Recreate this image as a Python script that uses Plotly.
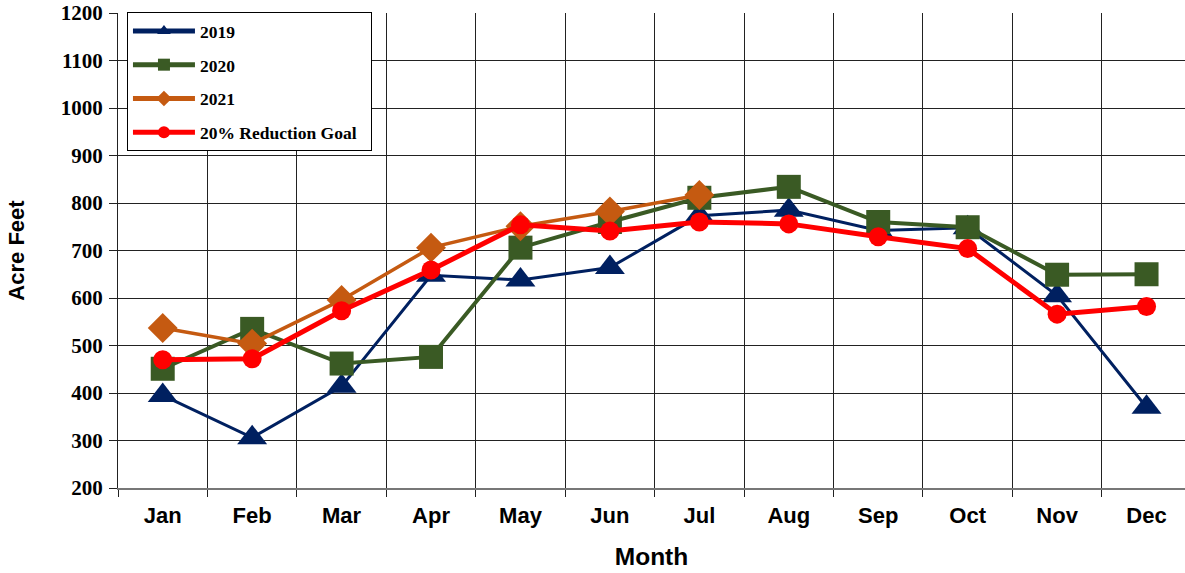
import plotly.graph_objects as go

months = ["Jan", "Feb", "Mar", "Apr", "May", "Jun", "Jul", "Aug", "Sep", "Oct", "Nov", "Dec"]
pos = list(range(1, 13))
y2019 = [395, 306, 414, 648, 638, 664, 773, 785, 742, 748, 605, 370]
y2020 = [451, 535, 462, 476, 706, 760, 811, 834, 760, 749, 649, 650]
y2021 = [537, 504, 596, 706, 751, 782, 817]
goal = [470, 472, 573, 659, 754, 741, 760, 756, 729, 704, 566, 582]
y_ticks = list(range(200, 1201, 100))

fig = go.Figure()
series = [
    ("2019", y2019, "#002060", 3, "triangle-up", 26),
    ("2020", y2020, "#3a5a24", 4, "square", 24),
    ("2021", y2021, "#C55A11", 3.5, "diamond", 23),
    ("20% Reduction Goal\u00a0\u00a0", goal, "#FF0000", 5, "circle", 19),
]
for i, (name, vals, col, lw, sym, ms) in enumerate(series):
    fig.add_trace(go.Scatter(
        x=pos[:len(vals)], y=vals, name=name, mode="lines+markers",
        line=dict(color=col, width=lw),
        marker=dict(symbol=sym, size=ms, color=col, line=dict(width=0)),
        legendgroup=f"g{i}",
    ))

fig.update_layout(
    width=1185, height=573,
    margin=dict(l=118, r=0, t=13, b=85),
    plot_bgcolor="white", paper_bgcolor="white",
    showlegend=True,
    legend=dict(
        x=0.0084, y=1.002, xanchor="left", yanchor="top",
        bgcolor="white", bordercolor="black", borderwidth=1,
        font=dict(family="Liberation Serif", size=17.5, color="black", weight="bold"),
        tracegroupgap=8, itemsizing="constant", itemwidth=62,
    ),
    xaxis=dict(
        range=[0.5, 12.43], tickvals=pos, ticktext=months,
        showgrid=False, ticks="", zeroline=False, automargin=False,
        ticklabelstandoff=7,
        tickfont=dict(family="Arial, Liberation Sans", size=22, color="black", weight="bold"),
        showline=True, linecolor="#777", linewidth=2,
        minor=dict(tickvals=[p + 0.5 for p in range(0, 13)], showgrid=True,
                   gridcolor="#222", gridwidth=1, ticks="outside", ticklen=7,
                   tickcolor="#222"),
        title=dict(text="Month", standoff=20,
                   font=dict(family="Arial, Liberation Sans", size=24.5, color="black", weight="bold")),
    ),
    yaxis=dict(
        range=[200, 1200], tickvals=y_ticks,
        showgrid=True, gridcolor="#222", gridwidth=1, zeroline=False, automargin=False,
        ticks="outside", ticklen=8, tickcolor="#222", ticklabelstandoff=2,
        ticklabeloverflow="allow",
        tickfont=dict(family="Liberation Serif", size=21, color="black", weight="bold"),
        showline=True, linecolor="#222", linewidth=1,
        title=dict(text="Acre Feet", standoff=30,
                   font=dict(family="Arial, Liberation Sans", size=22, color="black", weight="bold")),
    ),
)

fig.write_html("out.html", post_script="document.body.style.margin='0';",
               config={"displayModeBar": False})
